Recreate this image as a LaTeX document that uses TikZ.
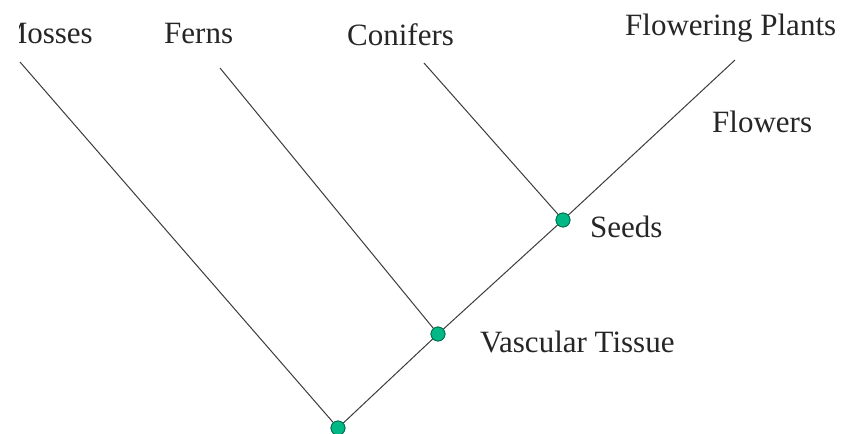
\documentclass[tikz,border=0pt]{standalone}
\usepackage{fontspec}
\setmainfont{Liberation Serif}
\definecolor{dotgreen}{RGB}{0,184,134}
\definecolor{dotedge}{RGB}{0,110,80}
\definecolor{branch}{RGB}{60,60,60}
\tikzset{
  branchline/.style={draw=branch, line width=1pt},
  traitdot/.style={circle, fill=dotgreen, draw=dotedge, line width=0.8pt,
                   minimum size=14pt, inner sep=0pt},
  taxon/.style={inner sep=0pt, anchor=base west,
                font=\fontsize{31}{36}\selectfont, text=black!85}
}
\begin{document}
\begin{tikzpicture}[x=1pt, y=-1pt]
    \useasboundingbox (0,0) rectangle (847,434);
    \fill[white] (0,0) rectangle (847,434);
    \begin{scope}
    \clip (19,0) rectangle (847,434);

    % branch points
    \node[traitdot] (root) at (338,428) {};
    \node[traitdot] (vasc) at (438,334) {};
    \node[traitdot] (seed) at (563,220) {};

    % tips
    \coordinate (mossTip) at (20,62);
    \coordinate (fernTip) at (220,68);
    \coordinate (coniTip) at (424,63);
    \coordinate (flowTip) at (735,60);

    % branches
    \draw[branchline] (root) -- (mossTip);
    \draw[branchline] (vasc) -- (fernTip);
    \draw[branchline] (seed) -- (coniTip);
    \draw[branchline] (root) -- (vasc);
    \draw[branchline] (vasc) -- (seed);
    \draw[branchline] (seed) -- (flowTip);

    % redraw dots over the lines
    \node[traitdot] at (root) {};
    \node[traitdot] at (vasc) {};
    \node[traitdot] at (seed) {};

    % taxa
    \node[taxon, anchor=base east] (mosses) at (93,43) {Mosses};
    \node[taxon] (ferns) at (164,43) {Ferns};
    \node[taxon] (conifers) at (347,45) {Conifers};
    \node[taxon] (flowering) at (625,35) {Flowering Plants};

    % traits
    \node[taxon] (flowers) at (712,132) {Flowers};
    \node[taxon] (seeds) at (590,237) {Seeds};
    \node[taxon] (vascular) at (480,352) {Vascular Tissue};
    \end{scope}
\end{tikzpicture}
\end{document}
